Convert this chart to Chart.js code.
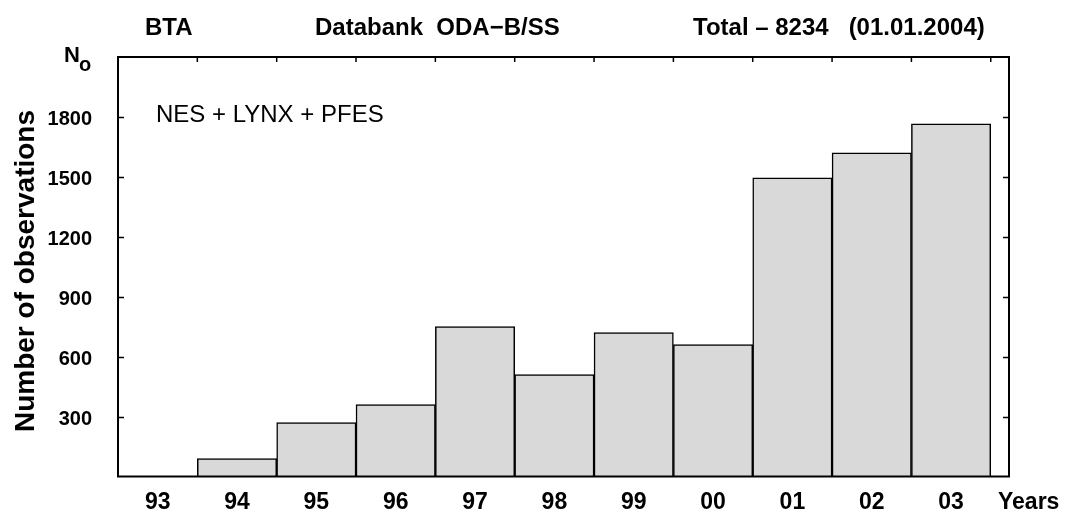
<!DOCTYPE html>
<html>
<head>
<meta charset="utf-8">
<script src="https://cdn.jsdelivr.net/npm/chart.js@4/dist/chart.umd.min.js"></script>
<style>
  html, body { margin: 0; padding: 0; background: #fff; }
  #wrap { width: 1067px; height: 515px; }
</style>
</head>
<body>
<div id="wrap"><canvas id="obsChart" width="1067" height="515"></canvas></div>
<script>
const years = ['93', '94', '95', '96', '97', '98', '99', '00', '01', '02', '03'];
const observations = [0, 90, 270, 360, 750, 510, 720, 660, 1495, 1620, 1765];
const yTicks = [300, 600, 900, 1200, 1500, 1800];

const boldFont = 'bold 24px "Liberation Sans", Arial, sans-serif';

// frame, inward tick marks and the extra texts
const decorations = {
  id: 'decorations',
  afterDatasetsDraw(chart) {
    const ctx = chart.ctx;
    const area = chart.chartArea;
    const x = chart.scales.x;
    const y = chart.scales.y;
    ctx.save();
    ctx.strokeStyle = '#000';
    ctx.lineWidth = 2;
    ctx.strokeRect(area.left, area.top, area.right - area.left, area.bottom - area.top);

    ctx.beginPath();
    yTicks.forEach(v => {
      const py = Math.round(y.getPixelForValue(v)) + 0.5;
      ctx.moveTo(area.left, py); ctx.lineTo(area.left + 6, py);
      ctx.moveTo(area.right, py); ctx.lineTo(area.right - 6, py);
    });
    years.forEach((yr, i) => {
      const px = x.getPixelForValue(i + 0.5);
      ctx.moveTo(px, area.top); ctx.lineTo(px, area.top + 5);
    });
    ctx.lineWidth = 1.5;
    ctx.stroke();

    ctx.fillStyle = '#000';
    ctx.textBaseline = 'alphabetic';
    ctx.font = boldFont;
    ctx.textAlign = 'left';
    ctx.fillText('BTA', 145, 35);
    ctx.fillText('Databank  ODA\u2212B/SS', 315, 35);
    ctx.fillText('Total \u2013 8234   (01.01.2004)', 693, 35);
    ctx.font = 'bold 22px "Liberation Sans", Arial, sans-serif';
    ctx.fillText('N', 64, 62);
    ctx.font = 'bold 20px "Liberation Sans", Arial, sans-serif';
    ctx.fillText('o', 79, 71);

    ctx.font = 'bold 23px "Liberation Sans", Arial, sans-serif';
    ctx.fillText('Years', 998, 509);

    ctx.font = '24px "Liberation Sans", Arial, sans-serif';
    ctx.fillText('NES + LYNX + PFES', 156, 122);

    ctx.translate(34, 271);
    ctx.rotate(-Math.PI / 2);
    ctx.textAlign = 'center';
    ctx.font = 'bold 28px "Liberation Sans", Arial, sans-serif';
    ctx.fillText('Number of observations', 0, 0);
    ctx.restore();
  }
};

const ctx = document.getElementById('obsChart').getContext('2d');
const obsChart = new Chart(ctx, {
  type: 'bar',
  data: {
    datasets: [{
      label: 'Observations',
      data: years.map((yr, i) => ({ x: i, y: observations[i] })),
      backgroundColor: '#d9d9d9',
      borderColor: '#000',
      borderWidth: 1.5,
      borderSkipped: 'bottom',
      barPercentage: 1,
      categoryPercentage: 1
    }]
  },
  options: {
    responsive: false,
    animation: false,
    layout: { padding: { left: 0, right: 58, top: 57, bottom: 0 } },
    plugins: {
      legend: { display: false },
      tooltip: { enabled: false }
    },
    scales: {
      x: {
        type: 'linear',
        offset: false,
        min: -0.5,
        max: 10.73,
        grid: { display: false, drawTicks: false, offset: false },
        border: { display: false },
        afterFit(scale) { scale.height = 38.5; },
        afterBuildTicks(scale) { scale.ticks = years.map((yr, i) => ({ value: i })); },
        ticks: {
          autoSkip: false,
          maxRotation: 0,
          padding: 12,
          color: '#000',
          font: { family: '"Liberation Sans", Arial, sans-serif', size: 23, weight: 'bold' },
          callback: v => years[v]
        }
      },
      y: {
        min: 0,
        max: 2100,
        grid: { display: false, drawTicks: false },
        border: { display: false },
        afterFit(scale) { scale.width = 118; },
        afterBuildTicks(scale) { scale.ticks = yTicks.map(v => ({ value: v })); },
        ticks: {
          padding: 26,
          labelOffset: 3,
          color: '#000',
          font: { family: '"Liberation Sans", Arial, sans-serif', size: 20, weight: 'bold' },
          callback: v => String(v)
        }
      }
    }
  },
  plugins: [decorations]
});
</script>
</body>
</html>
